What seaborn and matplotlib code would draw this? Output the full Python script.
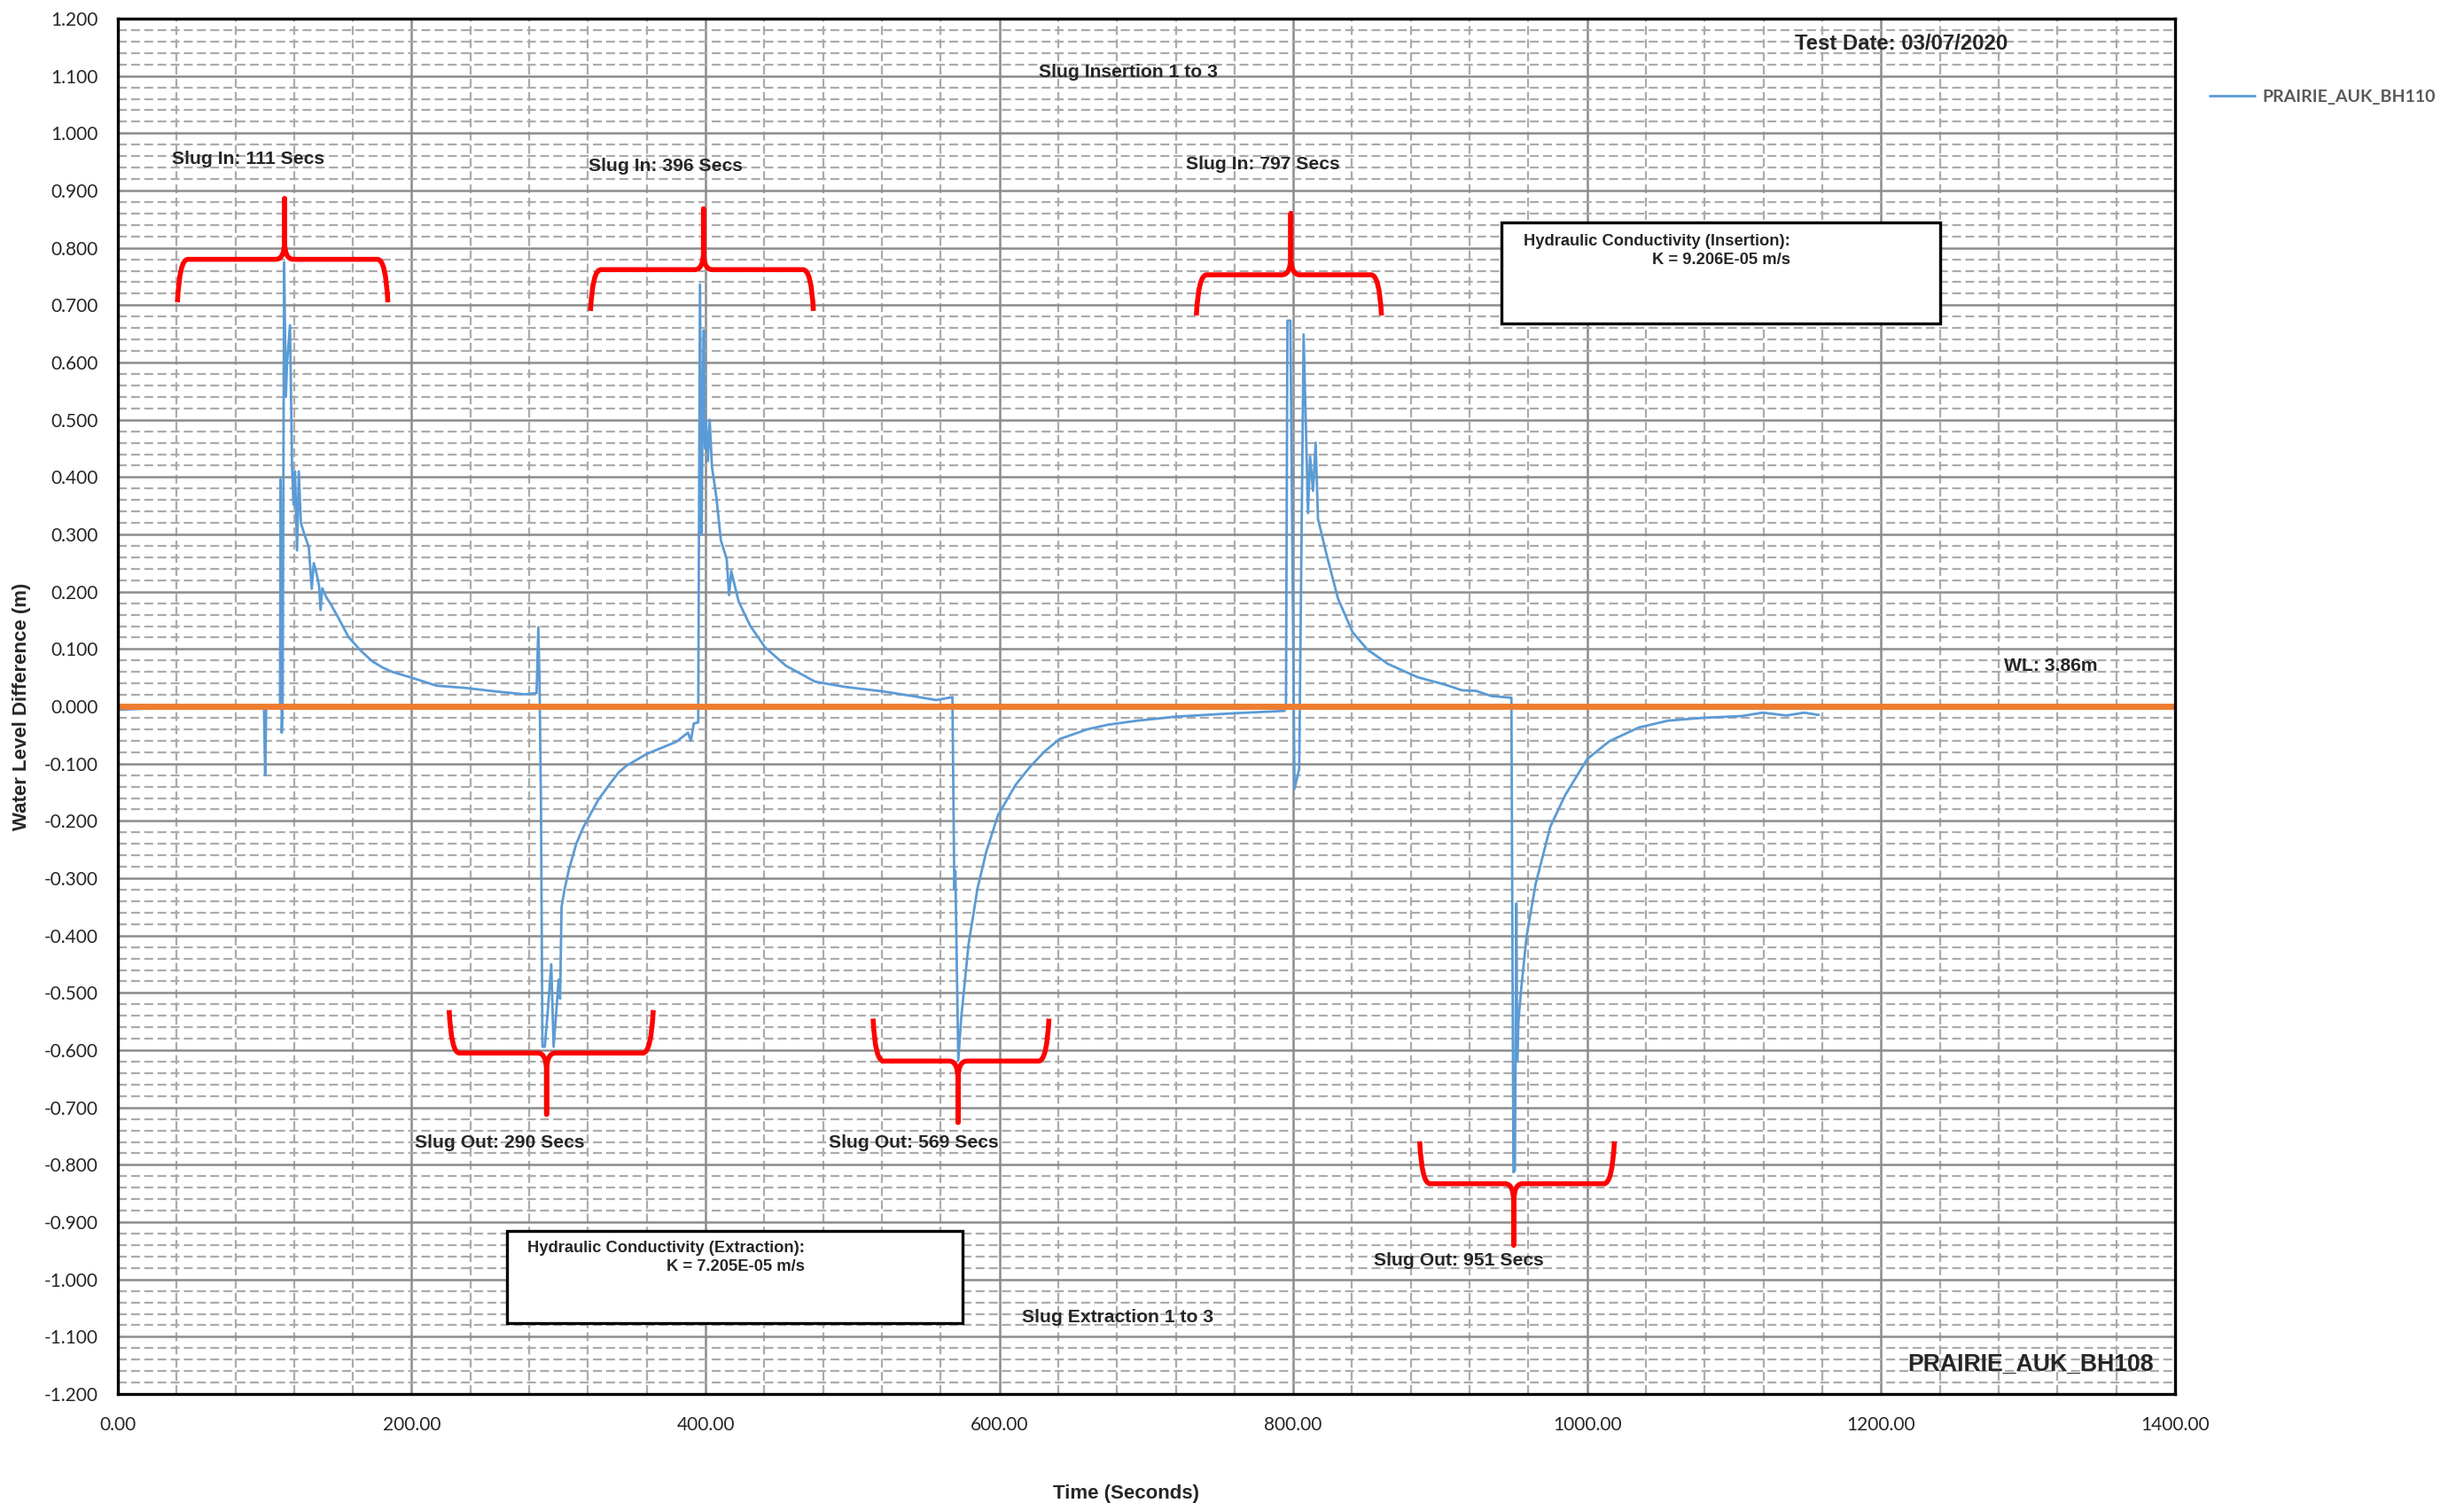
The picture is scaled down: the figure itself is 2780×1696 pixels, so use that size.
import numpy as np
import pandas as pd
import seaborn as sns
import matplotlib
matplotlib.use("Agg")
import matplotlib.pyplot as plt
from matplotlib.path import Path
from matplotlib.patches import PathPatch, Rectangle
from matplotlib.ticker import MultipleLocator, FuncFormatter

# Logger reading, PRAIRIE_AUK_BH110
time_s = [0, 10, 20, 30, 40, 50, 60, 70, 80, 90, 99.5, 100.3, 101.0, 109,
          110.4, 110.8, 111.6, 112.2, 113.2, 114.4, 115.2, 117.2, 118.6, 119.6,
          120.6, 122.0, 123.2, 124.6, 127, 130, 132, 133.4, 135, 137, 138,
          139.2, 142, 145, 150, 157, 165, 173, 180, 187, 200, 217, 237, 257,
          277, 285, 286.2, 287, 288, 289, 290.6, 293, 295, 296.6, 298.5, 300,
          301, 302, 304, 307, 312, 317, 327, 335, 341, 346, 360, 380, 388,
          390, 392, 395, 396.2, 397.4, 398, 398.8, 399.6, 400.4, 401.6, 402.8,
          404.4, 405.4, 407.4, 410.4, 414.4, 416, 417.5, 422.5, 430.5, 440.5,
          454.6, 474.6, 494.7, 520.8, 540.8, 556.9, 568, 569.3, 570, 572, 574,
          579, 585, 591, 599, 611, 621, 631, 641, 660, 674, 694, 720, 760,
          794, 795, 796, 798, 800.8, 804, 807, 810, 811.4, 813.4, 815.2, 816.8,
          822.4, 830.4, 840.4, 850.4, 864.4, 884.4, 904.4, 914.7, 924.4,
          934.7, 948.4, 949.8, 950.8, 951.8, 952.4, 953.2, 954.8, 958.8,
          964.9, 974.9, 985, 1000, 1015, 1035, 1055, 1079, 1105, 1119.5,
          1135.5, 1147.6, 1157.6]
level_m = [-0.006, -0.005, -0.004, -0.004, -0.003, -0.003, -0.002, -0.003,
           -0.002, -0.002, -0.002, -0.120, -0.003, -0.002, 0.002, 0.396,
           -0.046, 0.010, 0.775, 0.540, 0.600, 0.665, 0.420, 0.352, 0.410,
           0.272, 0.410, 0.320, 0.300, 0.278, 0.205, 0.250, 0.235, 0.210,
           0.168, 0.206, 0.190, 0.178, 0.155, 0.121, 0.098, 0.079, 0.068,
           0.060, 0.050, 0.036, 0.032, 0.026, 0.021, 0.023, 0.138, 0.045,
           -0.173, -0.594, -0.594, -0.520, -0.450, -0.594, -0.530, -0.477,
           -0.510, -0.350, -0.320, -0.285, -0.240, -0.210, -0.163, -0.135,
           -0.115, -0.104, -0.083, -0.062, -0.046, -0.060, -0.030, -0.028,
           0.736, 0.300, 0.534, 0.656, 0.450, 0.497, 0.428, 0.500, 0.417,
           0.400, 0.364, 0.290, 0.257, 0.194, 0.236, 0.183, 0.140, 0.103,
           0.071, 0.043, 0.034, 0.026, 0.018, 0.011, 0.016, -0.319, -0.287,
           -0.618, -0.543, -0.415, -0.319, -0.254, -0.190, -0.137, -0.105,
           -0.078, -0.057, -0.040, -0.032, -0.025, -0.018, -0.012, -0.008,
           0.000, 0.673, 0.673, -0.144, -0.109, 0.649, 0.337, 0.436, 0.376,
           0.460, 0.327, 0.267, 0.188, 0.129, 0.099, 0.074, 0.051, 0.037,
           0.028, 0.027, 0.018, 0.015, -0.813, -0.810, -0.344, -0.620,
           -0.550, -0.500, -0.400, -0.310, -0.210, -0.155, -0.092, -0.061,
           -0.037, -0.025, -0.020, -0.017, -0.011, -0.016, -0.011, -0.015]
series_name = "PRAIRIE_AUK_BH110"

# brace annotations: left, centre, right, level, arm end, tip
brace_left = [40.6, 321.7, 734, 225.5, 514, 886]
brace_center = [113.5, 398.6, 798.3, 291.8, 571.8, 950]
brace_right = [183.8, 473.4, 860, 364.4, 633.7, 1018.5]
brace_level = [0.780, 0.762, 0.753, -0.605, -0.619, -0.833]
brace_end = [0.705, 0.690, 0.682, -0.530, -0.545, -0.759]
brace_tip = [0.886, 0.868, 0.860, -0.712, -0.726, -0.940]

# labels: text, t, level
label_text = ["Slug In: 111 Secs", "Slug In: 396 Secs", "Slug In: 797 Secs",
              "Slug Out: 290 Secs", "Slug Out: 569 Secs", "Slug Out: 951 Secs",
              "Slug Insertion 1 to 3", "Slug Extraction 1 to 3", "WL: 3.86m"]
label_t = [37, 320.6, 726.7, 202, 484, 855, 627, 615.6, 1283.5]
label_v = [0.955, 0.942, 0.945, -0.762, -0.762, -0.967, 1.107, -1.066, 0.071]

sns.set_style("white")
plt.rcParams['font.family'] = ['Liberation Sans', 'DejaVu Sans']

fig = plt.figure(figsize=(13.9, 8.48), dpi=200)
ax = fig.add_axes([0.0478, 0.0725, 0.8349, 0.9151])

df = pd.DataFrame({'Time': time_s, 'Level': level_m, 'Series': series_name})
sns.lineplot(data=df, x='Time', y='Level', hue='Series', palette=['#5B9BD5'],
             sort=False, estimator=None, lw=1.0, ax=ax, zorder=3)

# static water level
ax.axhline(0, color='#ED7D31', lw=2.5, zorder=4)

ax.set_xlim(0, 1400)
ax.set_ylim(-1.2, 1.2)
ax.xaxis.set_major_locator(MultipleLocator(200))
ax.xaxis.set_minor_locator(MultipleLocator(40))
ax.yaxis.set_major_locator(MultipleLocator(0.1))
ax.yaxis.set_minor_locator(MultipleLocator(0.02))
ax.xaxis.set_major_formatter(FuncFormatter(lambda x, p: f"{x + 0.0:.2f}"))
ax.yaxis.set_major_formatter(FuncFormatter(lambda y, p: f"{round(y, 3) + 0.0:.3f}"))
ax.set_axisbelow(True)
ax.grid(which='major', color='#8C8C8C', lw=0.9, ls='-')
ax.grid(which='minor', color='#ABABAB', lw=0.8, ls=(0, (4.5, 2.2)))

for sp in ax.spines.values():
    sp.set_color('black')
    sp.set_linewidth(1.2)
    sp.set_zorder(6)

ax.tick_params(axis='x', which='major', length=4, width=1, color='black', pad=5)
ax.tick_params(axis='y', which='major', length=0, pad=8)
ax.tick_params(which='minor', length=0)
for lab in ax.get_xticklabels() + ax.get_yticklabels():
    lab.set_family(['Lato', 'DejaVu Sans'])
    lab.set_fontsize(7.5)

ax.set_xlabel("Time (Seconds)", fontsize=8, fontweight='bold')
ax.set_ylabel("Water Level Difference (m)", fontsize=8, fontweight='bold')
ax.xaxis.set_label_coords(0.49, -0.066)
ax.yaxis.set_label_coords(-0.042, 0.5)

# braces
r = 7
rt = 6
for L, C, R, yl, ye, yt in zip(brace_left, brace_center, brace_right,
                               brace_level, brace_end, brace_tip):
    yk = yl + (yt - yl) * 0.3
    verts = [(L, ye), (L + r * 0.2, yl), (L + r, yl),
             (C - rt, yl), (C, yl), (C, yk), (C, yt),
             (C, yk), (C, yl), (C + rt, yl),
             (R - r, yl), (R - r * 0.2, yl), (R, ye)]
    codes = [Path.MOVETO, Path.CURVE3, Path.CURVE3,
             Path.LINETO, Path.CURVE3, Path.CURVE3, Path.LINETO,
             Path.LINETO, Path.CURVE3, Path.CURVE3,
             Path.LINETO, Path.CURVE3, Path.CURVE3]
    ax.add_patch(PathPatch(Path(verts, codes), fill=False, ec='#FF0000',
                           lw=2.0, capstyle='butt', joinstyle='round', zorder=5))

for txt, t, v in zip(label_text, label_t, label_v):
    ax.text(t, v, txt, fontsize=7.6, fontweight='bold', ha='left', va='center',
            zorder=7)

ax.text(1141, 1.156, "Test Date: 03/07/2020", fontsize=8.6, fontweight='bold',
        ha='left', va='center', zorder=7)
ax.text(1218, -1.148, "PRAIRIE_AUK_BH108", fontsize=9.6, fontweight='bold',
        ha='left', va='center', zorder=7)

# conductivity boxes
ax.add_patch(Rectangle((941.5, 0.668), 298.5, 0.176, fc='white', ec='black',
                       lw=1.2, zorder=6))
ax.text(1138, 0.811, "Hydraulic Conductivity (Insertion):", fontsize=6.6,
        fontweight='bold', ha='right', va='center', zorder=7)
ax.text(1138, 0.778, "K = 9.206E-05 m/s", fontsize=6.6,
        fontweight='bold', ha='right', va='center', zorder=7)
ax.add_patch(Rectangle((265, -1.077), 310, 0.162, fc='white', ec='black',
                       lw=1.2, zorder=6))
ax.text(467.6, -0.945, "Hydraulic Conductivity (Extraction):", fontsize=6.6,
        fontweight='bold', ha='right', va='center', zorder=7)
ax.text(467.6, -0.978, "K = 7.205E-05 m/s", fontsize=6.6,
        fontweight='bold', ha='right', va='center', zorder=7)

handles, labels = ax.get_legend_handles_labels()
leg = ax.legend(handles, labels, loc='center left', bbox_to_anchor=(1.017, 0.943),
                frameon=False, handlelength=2.6, handletextpad=0.45,
                borderpad=0, borderaxespad=0,
                prop={'family': ['Lato', 'DejaVu Sans'], 'weight': 'bold', 'size': 7})
for t in leg.get_texts():
    t.set_color('#595959')

fig.savefig("out.png", dpi=200)
